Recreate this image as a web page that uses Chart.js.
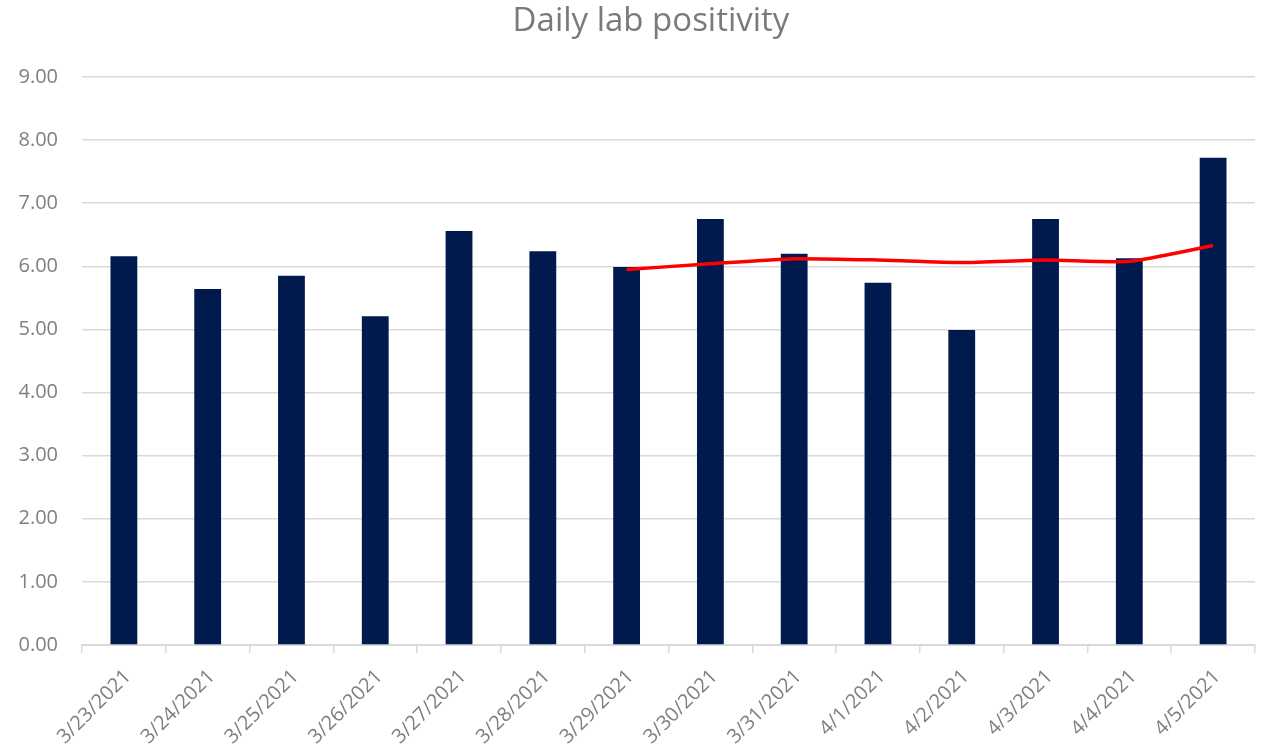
<!DOCTYPE html>
<html>
<head>
<meta charset="utf-8">
<script src="https://cdn.jsdelivr.net/npm/chart.js@4"></script>
<style>
  html, body { margin: 0; padding: 0; background: #fff; }
  #wrap { width: 1263px; height: 750px; }
</style>
</head>
<body>
<div id="wrap"><canvas id="positivity"></canvas></div>
<script>
const chartTitle = 'Daily lab positivity';
const dates = ["3/23/2021", "3/24/2021", "3/25/2021", "3/26/2021", "3/27/2021", "3/28/2021", "3/29/2021",
  "3/30/2021", "3/31/2021", "4/1/2021", "4/2/2021", "4/3/2021", "4/4/2021", "4/5/2021"];
const dailyPositivity = [6.16, 5.64, 5.85, 5.21, 6.56, 6.24, 5.99, 6.75, 6.20, 5.74, 4.99, 6.75, 6.13, 7.72];
const rollingAverage = [null, null, null, null, null, null, 5.95, 6.04, 6.12, 6.10, 6.06, 6.10, 6.08, 6.33];

const ctx = document.getElementById("positivity").getContext('2d');
const fontFamily = "'Open Sans', 'Noto Sans', sans-serif";

// title centred over the whole picture (like the Excel original), not over the plot
const titlePlugin = {
  id: 'centredTitle',
  afterDraw(chart) {
    const c = chart.ctx;
    c.save();
    c.font = "33px " + fontFamily;
    c.fillStyle = '#7a7a7a';
    c.textAlign = 'center';
    c.textBaseline = 'middle';
    c.fillText(chartTitle, 651, 22);
    c.restore();
  }
};

const chart = new Chart(ctx, {
  data: {
    labels: dates,
    datasets: [
      {
        type: 'line',
        data: rollingAverage,
        borderColor: '#ff0000',
        borderWidth: 3.5,
        pointRadius: 0,
        tension: 0.2,
        order: 0
      },
      {
        type: 'bar',
        data: dailyPositivity,
        backgroundColor: '#001a4d',
        barPercentage: 0.32,
        categoryPercentage: 1,
        order: 1
      }
    ]
  },
  plugins: [titlePlugin],
  options: {
    responsive: true,
    maintainAspectRatio: false,
    animation: false,
    layout: {
      padding: { left: 0, right: 8, top: 77, bottom: 0 }
    },
    plugins: {
      legend: { display: false },
      tooltip: { enabled: false },
      title: { display: false }
    },
    scales: {
      x: {
        offset: true,
        afterFit: (scale) => { scale.height = 105; },
        grid: {
          offset: true,
          drawOnChartArea: false,
          color: '#d9d9d9',
          lineWidth: 1.5,
          tickLength: 8
        },
        border: { color: '#d9d9d9', width: 2 },
        ticks: {
          color: '#7f7f7f',
          maxRotation: 45,
          minRotation: 45,
          autoSkip: false,
          font: { family: fontFamily, size: 20 },
          padding: 12,
          labelOffset: 4
        }
      },
      y: {
        min: 0,
        max: 9,
        afterFit: (scale) => { scale.width = 82; },
        grid: {
          color: '#d9d9d9',
          lineWidth: 1.5,
          drawTicks: false
        },
        border: { display: false },
        ticks: {
          stepSize: 1,
          color: '#7f7f7f',
          padding: 24,
          font: { family: fontFamily, size: 20 },
          callback: (v) => Number(v).toFixed(2)
        }
      }
    }
  }
});
</script>
</body>
</html>
